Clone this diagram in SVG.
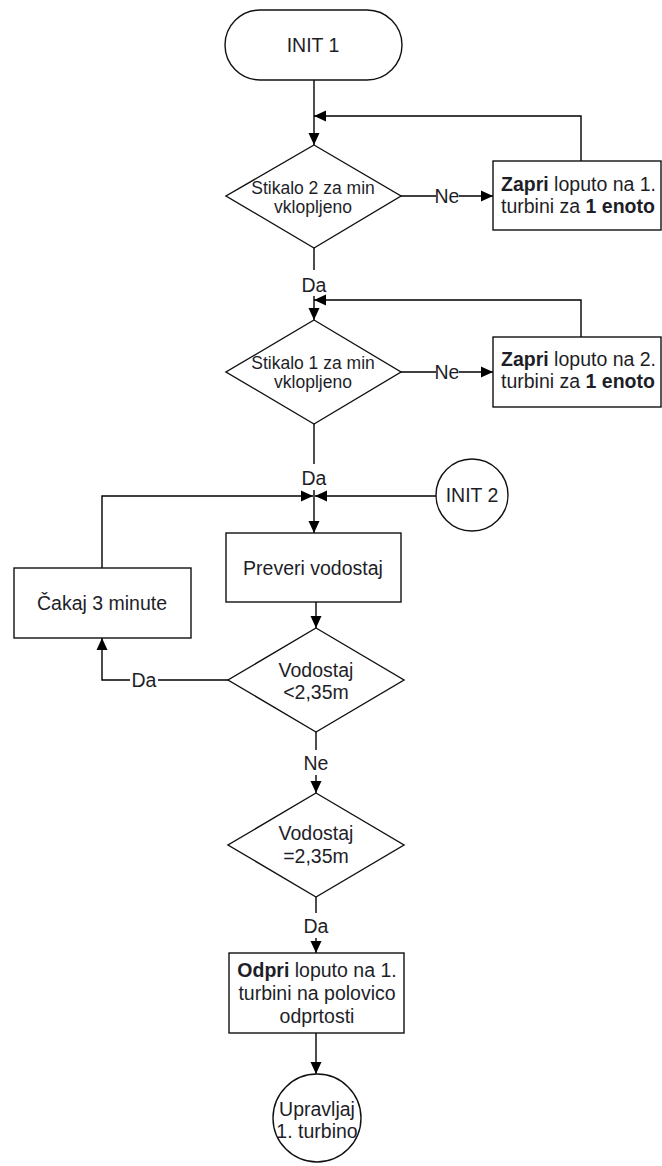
<svg xmlns="http://www.w3.org/2000/svg" width="662" height="1166" viewBox="0 0 662 1166">
  <defs>
    <marker id="arr" viewBox="0 0 12 12" refX="12" refY="6" markerWidth="12" markerHeight="12" markerUnits="userSpaceOnUse" orient="auto">
      <path d="M0,0.5 L12,6 L0,11.5 z" fill="#000"/>
    </marker>
    <style>
      .shape { fill: #fff; stroke: #111; stroke-width: 1.4; }
      .line { fill: none; stroke: #000; stroke-width: 1.4; }
      .t { font-family: "Liberation Sans", Arial, sans-serif; font-size: 19.5px; fill: #1e1e28; text-anchor: middle; }
      .ts { font-family: "Liberation Sans", Arial, sans-serif; font-size: 17.5px; fill: #1e1e28; text-anchor: middle; }
      .tl { font-family: "Liberation Sans", Arial, sans-serif; font-size: 19.5px; fill: #1e1e28; text-anchor: start; }
      .b { font-weight: bold; }
    </style>
  </defs>
  <rect width="662" height="1166" fill="#fff"/>

  <!-- connectors and their labels -->
  <g id="connectors">
    <path class="line" d="M314,80 V145" marker-end="url(#arr)"/>
    <path class="line" d="M581,161 V116 H314" marker-end="url(#arr)"/>
    <path class="line" d="M401,196 H436"/>
    <path class="line" d="M459,196 H493" marker-end="url(#arr)"/>
    <path class="line" d="M314,248 V270"/>
    <path class="line" d="M314,296 V320" marker-end="url(#arr)"/>
    <path class="line" d="M581,337 V300 H314" marker-end="url(#arr)"/>
    <path class="line" d="M401,372 H436"/>
    <path class="line" d="M459,372 H493" marker-end="url(#arr)"/>
    <path class="line" d="M314,424 V464"/>
    <path class="line" d="M314,490 V533" marker-end="url(#arr)"/>
    <path class="line" d="M102,568 V496 H313" marker-end="url(#arr)"/>
    <path class="line" d="M436,496 H315" marker-end="url(#arr)"/>
    <path class="line" d="M316,602 V628" marker-end="url(#arr)"/>
    <path class="line" d="M228,680 H158"/>
    <path class="line" d="M130,680 H102 V638" marker-end="url(#arr)"/>
    <path class="line" d="M316,732 V750"/>
    <path class="line" d="M316,775 V793" marker-end="url(#arr)"/>
    <path class="line" d="M316,897 V913"/>
    <path class="line" d="M316,938 V953" marker-end="url(#arr)"/>
    <path class="line" d="M316,1033 V1074" marker-end="url(#arr)"/>
    <text class="t" x="447" y="203">Ne</text>
    <text class="t" x="314" y="292">Da</text>
    <text class="t" x="447" y="379">Ne</text>
    <text class="t" x="314" y="485">Da</text>
    <text class="t" x="144" y="687">Da</text>
    <text class="t" x="316" y="770">Ne</text>
    <text class="t" x="316" y="933">Da</text>
  </g>

  <g id="init1">
    <rect class="shape" x="225" y="10" width="177" height="70" rx="35" ry="35"/>
    <text class="t" x="313" y="52">INIT 1</text>
  </g>

  <g id="stikalo2">
    <polygon class="shape" points="314,145 401,196 314,248 226,196"/>
    <text class="ts" x="313" y="194">Stikalo 2 za min</text>
    <text class="ts" x="313" y="213">vklopljeno</text>
  </g>

  <g id="zapri1">
    <rect class="shape" x="493" y="161" width="168" height="69"/>
    <text class="tl" x="501" y="191"><tspan class="b">Zapri</tspan> loputo na 1.</text>
    <text class="tl" x="501" y="213">turbini za <tspan class="b">1 enoto</tspan></text>
  </g>

  <g id="stikalo1">
    <polygon class="shape" points="314,320 401,372 314,424 226,372"/>
    <text class="ts" x="313" y="369">Stikalo 1 za min</text>
    <text class="ts" x="313" y="388">vklopljeno</text>
  </g>

  <g id="zapri2">
    <rect class="shape" x="493" y="337" width="168" height="70"/>
    <text class="tl" x="501" y="366"><tspan class="b">Zapri</tspan> loputo na 2.</text>
    <text class="tl" x="501" y="388">turbini za <tspan class="b">1 enoto</tspan></text>
  </g>

  <g id="init2">
    <circle class="shape" cx="472" cy="495" r="36"/>
    <text class="t" x="472" y="502">INIT 2</text>
  </g>

  <g id="preveri">
    <rect class="shape" x="226" y="533" width="175" height="69"/>
    <text class="t" x="313" y="575">Preveri vodostaj</text>
  </g>

  <g id="cakaj">
    <rect class="shape" x="14" y="568" width="177" height="70"/>
    <text class="t" x="102" y="610">Čakaj 3 minute</text>
  </g>

  <g id="vodostaj-manj">
    <polygon class="shape" points="316,628 404,680 316,732 228,680"/>
    <text class="t" x="316" y="677">Vodostaj</text>
    <text class="t" x="316" y="699">&lt;2,35m</text>
  </g>

  <g id="vodostaj-enako">
    <polygon class="shape" points="316,793 404,845 316,897 228,845"/>
    <text class="t" x="316" y="840">Vodostaj</text>
    <text class="t" x="316" y="863">=2,35m</text>
  </g>

  <g id="odpri">
    <rect class="shape" x="229" y="953" width="175" height="80"/>
    <text class="t" x="317" y="977"><tspan class="b">Odpri</tspan> loputo na 1.</text>
    <text class="t" x="317" y="1000">turbini na polovico</text>
    <text class="t" x="317" y="1023">odprtosti</text>
  </g>

  <g id="upravljaj">
    <circle class="shape" cx="317" cy="1118" r="44"/>
    <text class="t" x="317" y="1116">Upravljaj</text>
    <text class="t" x="317" y="1138">1. turbino</text>
  </g>
</svg>
